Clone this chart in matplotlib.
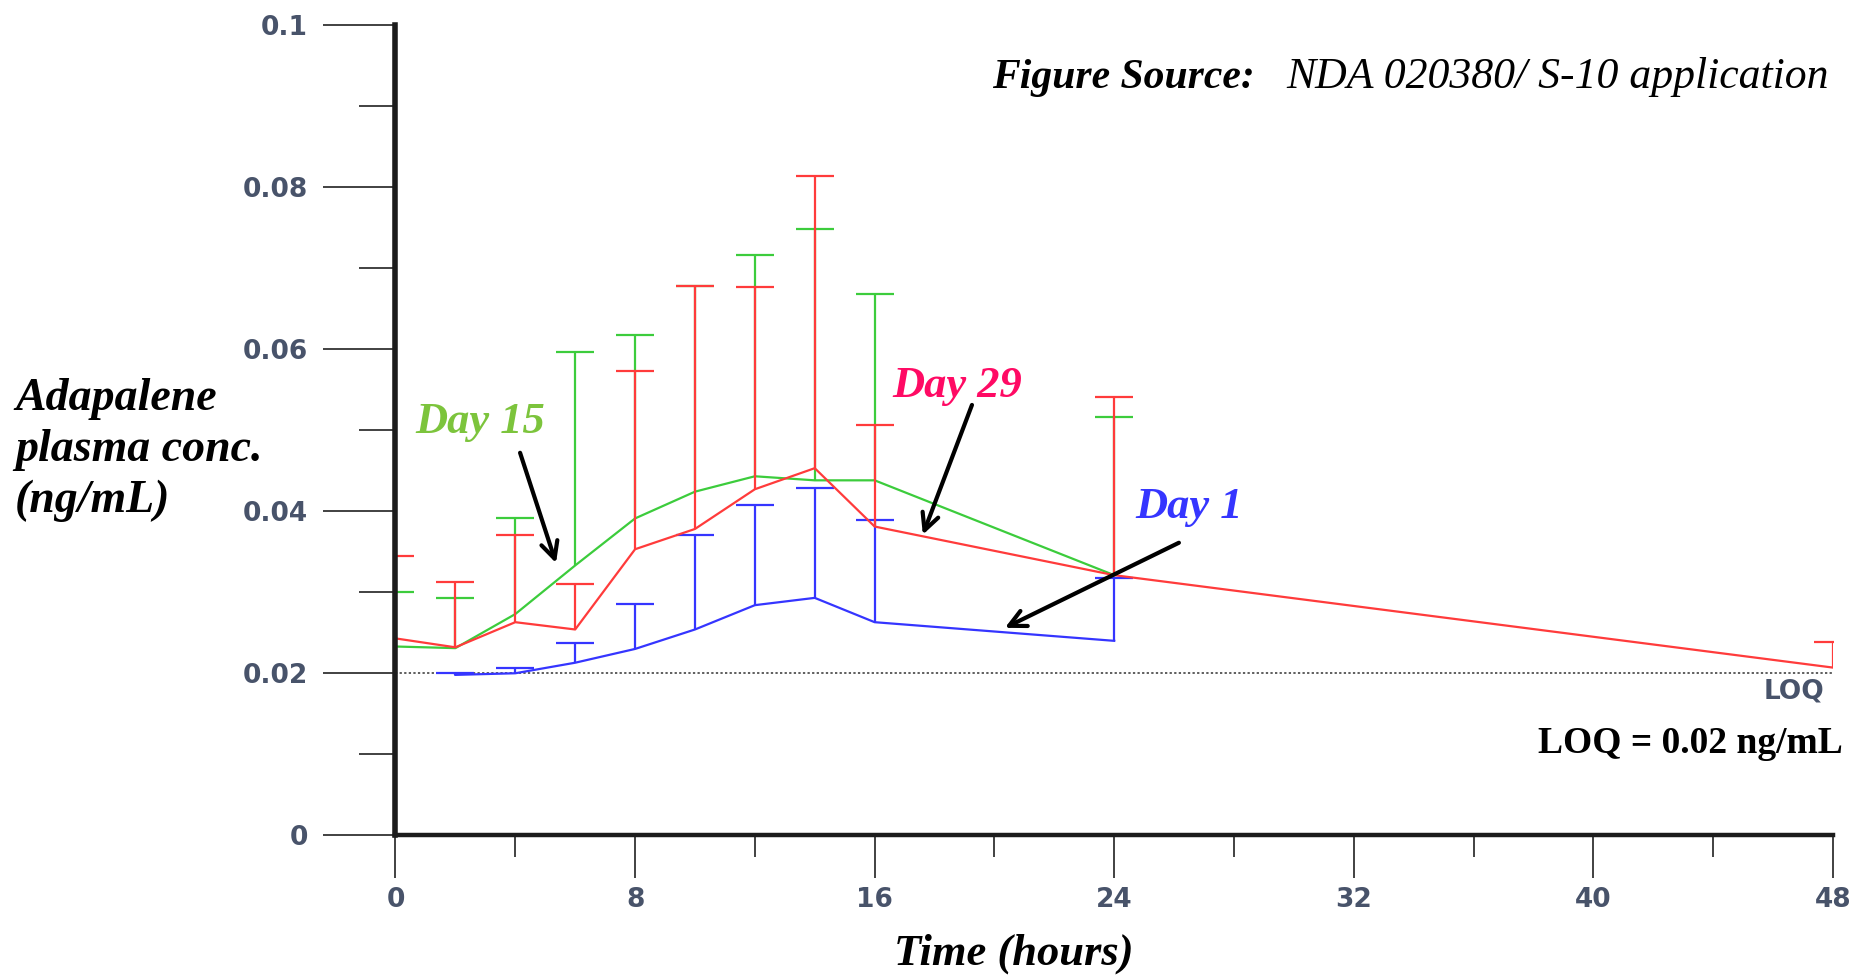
import matplotlib
matplotlib.use("Agg")
import matplotlib.pyplot as plt
from matplotlib.ticker import MultipleLocator
import numpy as np

# --- data (ng/mL vs hours) ---
t_day1 = [2, 4, 6, 8, 10, 12, 14, 16, 24]
mean_day1 = [0.0198, 0.0200, 0.0213, 0.0230, 0.0254, 0.0284, 0.0293, 0.0263, 0.0240]
upper_day1 = [0.0200, 0.0207, 0.0237, 0.0285, 0.0370, 0.0408, 0.0428, 0.0389, 0.0318]

t_day15 = [0, 2, 4, 6, 8, 10, 12, 14, 16, 24]
mean_day15 = [0.0233, 0.0231, 0.0273, 0.0333, 0.0391, 0.0424, 0.0443, 0.0438, 0.0438, 0.0321]
upper_day15 = [0.0300, 0.0293, 0.0392, 0.0596, 0.0617, 0.0678, 0.0716, 0.0748, 0.0668, 0.0516]

t_day29 = [0, 2, 4, 6, 8, 10, 12, 14, 16, 24, 48]
mean_day29 = [0.0243, 0.0232, 0.0263, 0.0254, 0.0353, 0.0378, 0.0427, 0.0453, 0.0381, 0.0321, 0.0207]
upper_day29 = [0.0345, 0.0313, 0.0370, 0.0310, 0.0573, 0.0678, 0.0676, 0.0814, 0.0506, 0.0541, 0.0239]

loq = 0.02
xticks = [0, 8, 16, 24, 32, 40, 48]
xtick_labels = ["0", "8", "16", "24", "32", "40", "48"]
yticks = [0, 0.02, 0.04, 0.06, 0.08, 0.1]
ytick_labels = ["0", "0.02", "0.04", "0.06", "0.08", "0.1"]
ylabel_lines = ["Adapalene", "plasma conc.", "(ng/mL)"]

SERIF = "Liberation Serif"
TICK_COLOR = "#48536a"

fig = plt.figure(figsize=(18.62, 9.75), dpi=100)
ax = fig.add_axes([0.2124, 0.1432, 0.772, 0.8314])


def draw_series(t, mean, upper, color, z):
    mean = np.array(mean)
    err = np.array(upper) - mean
    _, caps, _ = ax.errorbar(t, mean, yerr=[np.zeros_like(err), err], color=color, lw=1.6,
                             elinewidth=1.6, capsize=14, capthick=1.6, zorder=z)
    caps[0].set_visible(False)  # only upper caps in the original


draw_series(t_day1, mean_day1, upper_day1, "#3535ff", 2.0)
draw_series(t_day15, mean_day15, upper_day15, "#3ccc3c", 2.1)
draw_series(t_day29, mean_day29, upper_day29, "#ff3b3b", 2.2)

# LOQ line
ax.plot([0, 48], [loq, loq], color="#333333", lw=1.1, ls=(0, (1.5, 1.5)), zorder=1.5)
ax.text(47.7, 0.0178, "LOQ", ha="right", va="center", fontsize=19, fontweight="bold",
        color=TICK_COLOR, family="DejaVu Sans")

# axes styling
ax.set_xlim(0, 48)
ax.set_ylim(0, 0.1)
ax.spines["top"].set_visible(False)
ax.spines["right"].set_visible(False)
ax.spines["left"].set_linewidth(4)
ax.spines["left"].set_color("#1c1c1c")
ax.spines["bottom"].set_linewidth(3.2)
ax.spines["bottom"].set_color("#1c1c1c")

ax.set_xticks(xticks)
ax.set_xticklabels(xtick_labels)
ax.set_yticks(yticks)
ax.set_yticklabels(ytick_labels)
for lab in ax.get_xticklabels() + ax.get_yticklabels():
    lab.set_fontweight("bold")
ax.xaxis.set_minor_locator(MultipleLocator(4))
ax.yaxis.set_minor_locator(MultipleLocator(0.01))
ax.tick_params(axis="x", which="major", length=31, width=1.3, pad=6, colors="#333333",
               labelcolor=TICK_COLOR, labelsize=19)
ax.tick_params(axis="x", which="minor", length=16, width=1.3, colors="#333333")
ax.tick_params(axis="y", which="major", length=52, width=1.3, pad=11, colors="#333333",
               labelcolor=TICK_COLOR, labelsize=19)
ax.tick_params(axis="y", which="minor", length=26, width=1.3, colors="#333333")

# day labels + arrows
arrow = dict(arrowstyle="->,head_length=0.6,head_width=0.3", color="black", lw=3,
             shrinkA=0, shrinkB=0, mutation_scale=20)
ax.text(0.65, 0.0496, "Day 15", color="#7cc43c", fontsize=32, family=SERIF,
        fontweight="bold", fontstyle="italic", va="baseline")
ax.annotate("", xy=(5.36, 0.0336), xytext=(4.16, 0.0472), arrowprops=arrow)

ax.text(16.6, 0.0541, "Day 29", color="#ff0a64", fontsize=32, family=SERIF,
        fontweight="bold", fontstyle="italic", va="baseline")
ax.annotate("", xy=(17.61, 0.0371), xytext=(19.25, 0.0531), arrowprops=arrow)

ax.text(24.7, 0.0392, "Day 1", color="#3535ff", fontsize=32, family=SERIF,
        fontweight="bold", fontstyle="italic", va="baseline")
ax.annotate("", xy=(20.35, 0.0256), xytext=(26.16, 0.0361), arrowprops=arrow)

# figure texts
fig.text(992 / 1862, 0.9097, "Figure Source:", family=SERIF, fontsize=30,
         fontweight="bold", fontstyle="italic", va="baseline", ha="left")
fig.text(1829 / 1862, 0.9097, "NDA 020380/ S-10 application", family=SERIF, fontsize=31.5,
         fontstyle="italic", va="baseline", ha="right")

# y label as three stacked lines
for i, line in enumerate(ylabel_lines):
    fig.text(15 / 1862, 1 - (410 + 51 * i) / 975, line, family=SERIF, fontsize=33,
             fontweight="bold", fontstyle="italic", va="baseline", ha="left")

fig.text(1843 / 1862, 1 - 753 / 975, "LOQ = 0.02 ng/mL", family=SERIF, fontsize=27,
         fontweight="bold", va="baseline", ha="right")

fig.text(1014 / 1862, 1 - 965 / 975, "Time (hours)", family=SERIF, fontsize=32,
         fontweight="bold", fontstyle="italic", va="baseline", ha="center")

fig.savefig("out.png", dpi=100)
